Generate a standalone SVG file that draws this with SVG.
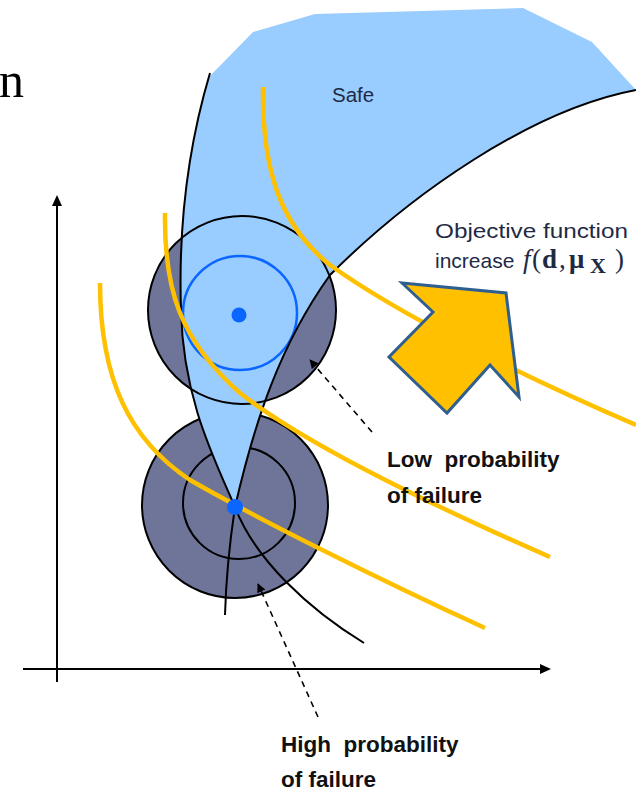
<svg xmlns="http://www.w3.org/2000/svg" width="636" height="792" viewBox="0 0 636 792">
<style>
.dark{fill:#6e7599;stroke:#000;stroke-width:2}
.ring{fill:none;stroke:#000;stroke-width:2}
.bnd{fill:none;stroke:#000;stroke-width:2}
.iso{fill:none;stroke:#ffc000;stroke-width:4.5;stroke-linecap:butt}
.dash{fill:none;stroke:#000;stroke-width:1.6;stroke-dasharray:6,5}
.axis{fill:none;stroke:#000;stroke-width:2}
.lbl{font-family:"Liberation Sans",Arial,sans-serif;font-weight:bold;font-size:22.5px;fill:#111}
.reg{font-family:"Liberation Sans",Arial,sans-serif;font-size:21px;fill:#1e2a44}
</style>
<defs>
<marker id="ah" viewBox="0 0 10 10" refX="9" refY="5" markerWidth="9" markerHeight="9" markerUnits="userSpaceOnUse" orient="auto">
<path d="M0,0 L10,5 L0,10 Z" fill="#000"/>
</marker>
</defs>

<text x="-1" y="97" font-family="Liberation Serif,serif" font-size="50" fill="#000">n</text>

<g id="axes">
<line class="axis" x1="57" y1="682" x2="57" y2="204"/>
<path d="M57,195 L52,206 L62,206 Z" fill="#000"/>
<line class="axis" x1="23" y1="669" x2="541" y2="669"/>
<path d="M551,669 L540,664 L540,674 Z" fill="#000"/>
</g>

<g id="lower-circle">
<circle class="dark" cx="235" cy="505" r="93"/>
<circle class="ring" cx="239" cy="503" r="56"/>
</g>
<g id="upper-circle-fill">
<circle cx="242" cy="310" r="94" fill="#6e7599"/>
</g>

<g id="safe-region">
<path d="M210,76 L253,32 L315,14 L523,8 L592,42 L636,90 C530,110 410,195 330,275 C280,345 255,420 235,507 C215,460 183,400 181,310 C178,220 190,140 210,73 Z" fill="#99ccff"/>
<text x="332" y="102" font-family="Liberation Sans,Arial,sans-serif" font-size="20.5" fill="#1e2a44">Safe</text>
</g>

<g id="upper-circle">
<circle class="ring" cx="242" cy="310" r="94"/>
<circle cx="240" cy="313" r="57" fill="none" stroke="#0a66ff" stroke-width="2.5"/>
</g>

<g id="connectors">
<path id="limit-a" class="bnd" d="M210,73 C190,140 178,220 181,310 C183,400 215,460 235,507 C255,560 310,610 364,643"/>
<path id="limit-b" class="bnd" d="M636,90 C530,110 410,195 330,275 C280,345 255,420 235,507 C230,540 226,580 225,615"/>
<path id="iso-1" class="iso" d="M263,87 C262,170 280,225 330,265 C400,315 520,375 636,425"/>
<path id="iso-2" class="iso" d="M165,213 C164,290 180,340 240,393 C300,440 420,500 550,557"/>
<path id="iso-3" class="iso" d="M100,283 C100,380 130,440 190,480 C260,520 380,580 485,628"/>
<line class="dash" x1="372" y1="432" x2="310" y2="360" marker-end="url(#ah)"/>
<line class="dash" x1="318" y1="717" x2="258" y2="584" marker-end="url(#ah)"/>
</g>

<g id="points">
<circle cx="239" cy="315" r="7.5" fill="#0a66ff"/>
<circle cx="235" cy="507" r="8" fill="#0a66ff"/>
</g>

<g id="objective-arrow">
<path d="M402,283 L506,293 L519,397 L490,365 L447,413 L389,357 L433,312 Z" fill="#ffc000" stroke="#2f5f8f" stroke-width="3" stroke-linejoin="miter"/>
</g>

<g id="objective-label">
<text class="reg" x="435" y="238" textLength="193" lengthAdjust="spacingAndGlyphs">Objective function</text>
<text class="reg" x="435" y="268">increase</text>
<text y="268" font-family="Liberation Serif,serif" font-size="27" fill="#1e2a44"><tspan x="523" font-style="italic">f</tspan><tspan x="532">(</tspan><tspan x="542" font-weight="bold">d</tspan><tspan x="559">,</tspan><tspan x="569" font-weight="bold">μ</tspan><tspan x="590" dy="5" font-weight="bold" font-size="22">X</tspan><tspan x="615" dy="-5">)</tspan></text>
</g>

<g id="low-label">
<text class="lbl" x="387" y="467" xml:space="preserve">Low  probability</text>
<text class="lbl" x="387" y="503">of failure</text>
</g>
<g id="high-label">
<text class="lbl" x="281" y="752" xml:space="preserve">High  probability</text>
<text class="lbl" x="281" y="787">of failure</text>
</g>
</svg>
